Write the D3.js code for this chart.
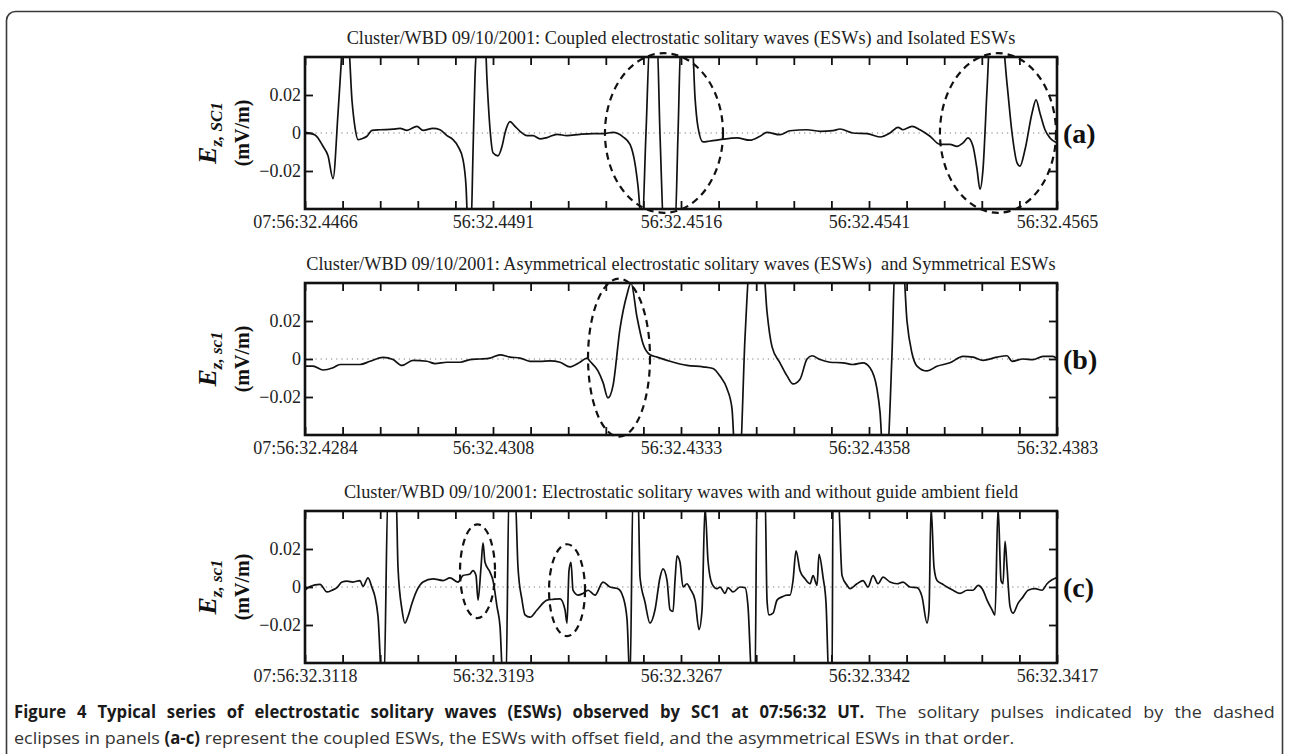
<!DOCTYPE html>
<html>
<head>
<meta charset="utf-8">
<script src="https://cdn.jsdelivr.net/npm/d3@7"></script>
<style>
  html, body { margin: 0; padding: 0; background: #fff; }
  svg { display: block; }
</style>
</head>
<body>
<svg id="fig" width="1289" height="754"></svg>
<script>
// ---------------- data ----------------
// time offsets in ms from the window start, field in mV/m
const panelTitles = [
  "Cluster/WBD 09/10/2001: Coupled electrostatic solitary waves (ESWs) and Isolated ESWs",
  "Cluster/WBD 09/10/2001: Asymmetrical electrostatic solitary waves (ESWs)\u00a0 and Symmetrical ESWs",
  "Cluster/WBD 09/10/2001: Electrostatic solitary waves with and without guide ambient field"
];
const panelTags = ["(a)", "(b)", "(c)"];
const yUnitSubscripts = ["z, SC1", "z, sc1", "z, sc1"];
const windowSpansMs = [9.9, 9.9, 29.9];

const xTickLabelsA = ["07:56:32.4466", "56:32.4491", "56:32.4516", "56:32.4541", "56:32.4565"];
const xTickLabelsB = ["07:56:32.4284", "56:32.4308", "56:32.4333", "56:32.4358", "56:32.4383"];
const xTickLabelsC = ["07:56:32.3118", "56:32.3193", "56:32.3267", "56:32.3342", "56:32.3417"];

const yDomain = [-0.04, 0.04];
const yTickValues = [-0.02, 0, 0.02];
const yTickLabels = ["\u22120.02", "0", "0.02"];

const waveA = [
  [0.000,0.0003],[0.132,-0.001],[0.237,-0.007],[0.303,-0.012],[0.369,-0.024],[0.434,0.010],
  [0.474,0.035],[0.500,0.05],[0.566,0.05],[0.619,0.017],[0.658,0.003],[0.698,-0.0035],
  [0.750,-0.003],[0.816,-0.0017],[0.882,0.0014],[0.987,0.0017],[1.159,0.002],[1.251,0.0024],
  [1.343,0.0014],[1.474,0.0035],[1.553,0.0014],[1.685,0.0024],[1.777,0.0017],[1.869,-0.0014],
  [1.948,-0.0035],[2.014,-0.007],[2.080,-0.014],[2.120,-0.028],[2.146,-0.05],[2.185,-0.05],
  [2.212,-0.01],[2.238,0.03],[2.278,0.05],[2.370,0.05],[2.396,0.028],[2.436,0.002],
  [2.475,-0.0104],[2.541,-0.012],[2.594,-0.007],[2.633,0.000],[2.699,0.006],[2.765,0.0035],
  [2.830,0.0009],[2.923,-0.0014],[3.002,-0.0014],[3.094,-0.0031],[3.186,-0.0024],[3.318,-0.0007],
  [3.449,-0.0014],[3.620,-0.0007],[3.792,-0.0003],[3.923,-0.0003],[4.055,0.0003],[4.186,-0.002],
  [4.279,-0.006],[4.344,-0.016],[4.384,-0.028],[4.437,-0.05],[4.489,0.0],[4.542,0.05],
  [4.634,0.05],[4.673,0.0],[4.726,-0.05],[4.871,-0.05],[4.911,0.0],[4.950,0.05],
  [5.095,0.05],[5.134,0.019],[5.174,0.003],[5.240,-0.0047],[5.332,-0.0042],[5.463,-0.0035],
  [5.687,-0.0026],[5.858,-0.0038],[5.990,-0.0017],[6.082,0.0003],[6.253,-0.0009],[6.385,0.0012],
  [6.609,0.0017],[6.780,0.0009],[6.951,0.0012],[7.043,0.0021],[7.214,0.0],[7.399,-0.0003],
  [7.570,-0.0021],[7.701,0.0],[7.807,0.003],[7.872,0.0017],[7.991,0.0035],[8.096,0.0017],
  [8.228,-0.0017],[8.360,-0.006],[8.491,-0.006],[8.584,-0.007],[8.663,-0.0052],[8.728,-0.0026],
  [8.794,-0.007],[8.847,-0.019],[8.886,-0.0296],[8.926,-0.019],[8.979,0.023],[9.018,0.05],
  [9.176,0.05],[9.242,0.026],[9.308,0.0],[9.374,-0.0157],[9.413,-0.0174],[9.479,-0.0087],
  [9.571,0.0104],[9.624,0.0174],[9.676,0.0104],[9.742,0.0017],[9.808,-0.0026],[9.900,-0.0052]
];

const waveB = [
  [0.000,-0.0037],[0.105,-0.0037],[0.237,-0.0058],[0.369,-0.0046],[0.461,-0.0029],[0.592,-0.0029],
  [0.724,-0.0029],[0.856,-0.0012],[1.027,0.0009],[1.159,-0.0003],[1.277,-0.0034],[1.422,-0.0007],
  [1.606,-0.0012],[1.711,-0.0024],[1.869,-0.0017],[2.041,-0.0017],[2.172,-0.0003],[2.304,0.0],
  [2.436,0.0005],[2.567,0.0022],[2.699,0.001],[2.830,0.0005],[2.962,-0.0012],[3.094,-0.0012],
  [3.225,-0.001],[3.357,-0.0017],[3.489,-0.0041],[3.620,-0.0017],[3.713,0.0005],[3.752,-0.0012],
  [3.857,-0.0063],[3.923,-0.0123],[3.989,-0.0205],[4.055,-0.014],[4.147,0.016],[4.239,0.034],
  [4.292,0.040],[4.371,0.022],[4.450,0.008],[4.542,0.0022],[4.634,0.001],[4.805,-0.0012],
  [5.029,-0.0034],[5.240,-0.0041],[5.371,-0.005],[5.463,-0.009],[5.556,-0.0157],[5.621,-0.026],
  [5.661,-0.05],[5.727,-0.05],[5.793,0.0116],[5.858,0.05],[6.030,0.05],[6.082,0.025],
  [6.148,0.0065],[6.253,-0.002],[6.346,-0.0089],[6.425,-0.0131],[6.517,-0.0106],[6.609,0.0],
  [6.675,0.0017],[6.780,-0.0003],[6.912,-0.0017],[7.083,-0.002],[7.214,-0.0029],[7.346,-0.002],
  [7.438,-0.0046],[7.530,-0.0157],[7.570,-0.028],[7.609,-0.05],[7.662,-0.05],[7.728,0.003],
  [7.767,0.05],[7.872,0.05],[7.925,0.02],[7.991,0.003],[8.057,-0.0037],[8.189,-0.0063],
  [8.320,-0.0038],[8.491,-0.002],[8.663,0.0014],[8.794,0.001],[8.926,-0.0007],[9.110,0.001],
  [9.242,0.0017],[9.308,-0.0012],[9.453,0.0],[9.584,-0.0003],[9.716,0.0014],[9.847,0.0014],
  [9.900,0.0]
];

const waveC = [
  [0.000,-0.0017],[0.199,0.0003],[0.596,0.0014],[0.875,-0.0026],[1.074,-0.0017],[1.272,-0.0003],
  [1.471,0.0026],[1.670,0.0031],[1.909,0.0026],[2.187,0.0034],[2.306,0.0003],[2.505,0.0048],
  [2.664,-0.0003],[2.783,-0.0052],[2.903,-0.0155],[3.062,-0.05],[3.141,-0.05],[3.300,0.05],
  [3.618,0.05],[3.698,0.0103],[3.857,-0.012],[3.976,-0.019],[4.096,-0.0155],[4.255,-0.0086],
  [4.453,-0.0017],[4.692,0.0026],[5.090,0.0043],[5.487,0.0034],[5.766,0.0048],[6.084,0.0026],
  [6.283,0.006],[6.561,0.0069],[6.680,0.0086],[6.799,0.006],[6.879,-0.0069],[6.998,0.0103],
  [7.078,0.0233],[7.157,0.013],[7.356,0.0078],[7.475,0.0034],[7.634,-0.0103],[7.754,-0.0207],
  [7.873,-0.05],[7.992,-0.05],[8.112,0.05],[8.350,0.05],[8.469,0.0103],[8.629,-0.0069],
  [8.748,-0.0147],[8.947,-0.0159],[9.225,-0.0121],[9.623,-0.0069],[9.861,-0.0065],[10.140,-0.0062],
  [10.338,-0.012],[10.418,-0.019],[10.497,0.0086],[10.577,0.013],[10.656,-0.0017],[10.855,-0.0043],
  [11.054,-0.0034],[11.253,-0.0017],[11.531,-0.0043],[11.849,0.0026],[12.128,0.0],[12.446,-0.0009],
  [12.645,-0.0052],[12.804,-0.017],[12.923,-0.05],[13.042,0.05],[13.241,0.05],[13.321,0.005],
  [13.519,-0.008],[13.718,-0.019],[13.917,-0.012],[14.116,0.005],[14.235,0.0095],[14.394,0.0035],
  [14.513,-0.012],[14.633,-0.0129],[14.712,0.0034],[14.792,0.0164],[14.911,0.013],[15.030,0.0],
  [15.189,0.0017],[15.309,-0.0009],[15.508,-0.0069],[15.667,-0.0224],[15.786,-0.0121],[15.905,0.042],
  [16.024,0.0138],[16.184,0.0017],[16.382,-0.0009],[16.502,0.0],[16.700,-0.0034],[16.820,-0.0003],
  [17.019,-0.0026],[17.297,0.0],[17.496,-0.0003],[17.615,-0.0103],[17.774,-0.05],[17.893,-0.05],
  [17.973,0.05],[18.291,0.05],[18.370,-0.0069],[18.450,-0.0147],[18.609,-0.0138],[18.768,-0.0069],
  [18.967,-0.0052],[19.166,-0.0043],[19.285,-0.0043],[19.404,0.0034],[19.524,0.019],[19.683,0.0086],
  [19.882,0.0043],[20.080,0.0017],[20.200,0.006],[20.359,0.0009],[20.438,0.0172],[20.597,0.0052],
  [20.717,-0.0086],[20.836,-0.05],[20.955,-0.05],[20.995,0.05],[21.194,0.05],[21.353,0.006],
  [21.552,0.0009],[21.671,-0.0009],[21.949,0.0017],[22.188,0.0034],[22.387,0.0],[22.585,0.006],
  [22.784,0.0017],[22.983,0.0052],[23.261,0.0026],[23.540,0.0017],[23.778,0.0026],[24.057,0.0],
  [24.335,-0.0003],[24.534,-0.0052],[24.733,-0.019],[24.812,-0.012],[24.892,0.042],[25.011,0.0103],
  [25.130,0.0034],[25.329,0.0017],[25.528,0.0],[25.766,-0.0017],[26.045,-0.0034],[26.323,-0.0017],
  [26.562,-0.0017],[26.761,0.0009],[26.959,-0.0017],[27.118,-0.0069],[27.317,-0.012],[27.436,-0.0147],
  [27.556,0.042],[27.675,0.0034],[27.755,0.0017],[27.834,0.024],[27.914,0.0103],[28.033,-0.0103],
  [28.152,-0.0138],[28.351,-0.0086],[28.550,-0.0052],[28.749,-0.0017],[29.027,-0.0009],[29.305,-0.0017],
  [29.504,0.0017],[29.703,0.0038],[29.900,0.005]
];

// highlighted pulses: [centre ms, centre mV/m, half-width ms, half-height mV/m]
const ellipsesA = [[4.726, 0.0, 0.777, 0.042], [9.123, 0.0, 0.764, 0.042]];
const ellipsesB = [[4.134, 0.0007, 0.408, 0.0416]];
const ellipsesC = [[6.859, 0.0083, 0.696, 0.0247], [10.418, -0.0017, 0.716, 0.0242]];

// caption runs: [text, bold?]
const captionLine1 = [
  ["Figure 4 Typical series of electrostatic solitary waves (ESWs) observed by SC1 at 07:56:32 UT.", true],
  ["The solitary pulses indicated by the dashed", false]
];
const captionLine2 = [
  ["eclipses in panels", false],
  ["(a-c)", true],
  ["represent the coupled ESWs, the ESWs with offset field, and the asymmetrical ESWs in that order.", false]
];

// ---------------- layout ----------------
const svg = d3.select("#fig");
const plotLeft = 305, plotRight = 1057, plotH = 152;
const panelTops = [57, 283, 511];
const serif = "'Liberation Serif', 'Times New Roman', serif";

// figure frame
svg.append("rect")
  .attr("x", 6.5).attr("y", 11.5)
  .attr("width", 1276).attr("height", 800)
  .attr("rx", 9).attr("ry", 9)
  .attr("fill", "none").attr("stroke", "#3a3a3a").attr("stroke-width", 1.6);

const panels = [
  { wave: waveA, labels: xTickLabelsA, ellipses: ellipsesA },
  { wave: waveB, labels: xTickLabelsB, ellipses: ellipsesB },
  { wave: waveC, labels: xTickLabelsC, ellipses: ellipsesC }
];

panels.forEach((p, i) => {
  const top = panelTops[i];
  const span = windowSpansMs[i];
  const g = svg.append("g").attr("transform", `translate(0,${top})`);
  const x = d3.scaleLinear().domain([0, span]).range([plotLeft, plotRight]);
  const y = d3.scaleLinear().domain(yDomain).range([plotH, 0]);
  const xTicks = d3.range(21).map(k => k * span / 20);

  const clipId = "clip" + i;
  g.append("clipPath").attr("id", clipId)
    .append("rect").attr("x", plotLeft).attr("y", 0)
    .attr("width", plotRight - plotLeft).attr("height", plotH);

  // zero reference
  g.append("line")
    .attr("x1", plotLeft).attr("x2", plotRight)
    .attr("y1", y(0)).attr("y2", y(0))
    .attr("stroke", "#7a7a7a").attr("stroke-width", 1)
    .attr("stroke-dasharray", "1.2,4");

  // waveform
  const line = d3.line().x(d => x(d[0])).y(d => y(d[1])).curve(d3.curveMonotoneX);
  g.append("path").datum(p.wave)
    .attr("clip-path", `url(#${clipId})`)
    .attr("d", line)
    .attr("fill", "none").attr("stroke", "#111").attr("stroke-width", 1.7)
    .attr("stroke-linejoin", "round");

  // axes (ticks point inward)
  const styleAxis = sel => {
    sel.select(".domain").remove();
    sel.selectAll(".tick line").attr("stroke", "#111").attr("stroke-width", 1.8);
    sel.selectAll("text").attr("font-family", serif).attr("font-size", 18).attr("fill", "#222");
  };
  g.append("g").attr("transform", `translate(0,${plotH})`)
    .call(d3.axisBottom(x).tickValues(xTicks).tickSize(-8).tickSizeOuter(0).tickPadding(6)
      .tickFormat((d, k) => k % 5 === 0 ? p.labels[k / 5] : ""))
    .call(styleAxis);
  g.append("g")
    .call(d3.axisTop(x).tickValues(xTicks).tickSize(-8).tickSizeOuter(0).tickFormat(""))
    .call(styleAxis);
  g.append("g").attr("transform", `translate(${plotLeft},0)`)
    .call(d3.axisLeft(y).tickValues(yTickValues).tickSize(-8).tickSizeOuter(0).tickPadding(4)
      .tickFormat((d, k) => yTickLabels[k]))
    .call(styleAxis);
  g.append("g").attr("transform", `translate(${plotRight},0)`)
    .call(d3.axisRight(y).tickValues(yTickValues).tickSize(-8).tickSizeOuter(0).tickFormat(""))
    .call(styleAxis);

  // plot frame
  g.append("rect")
    .attr("x", plotLeft).attr("y", 0)
    .attr("width", plotRight - plotLeft).attr("height", plotH)
    .attr("fill", "none").attr("stroke", "#111").attr("stroke-width", 2.6);

  // dashed ellipses around selected pulses
  g.selectAll("ellipse.mark").data(p.ellipses).enter().append("ellipse")
    .attr("class", "mark")
    .attr("cx", d => x(d[0]))
    .attr("cy", d => y(d[1]))
    .attr("rx", d => x(d[2]) - x(0))
    .attr("ry", d => y(0) - y(d[3]))
    .attr("fill", "none").attr("stroke", "#111").attr("stroke-width", 2.2)
    .attr("stroke-dasharray", "7,5");

  // title
  g.append("text")
    .attr("x", (plotLeft + plotRight) / 2).attr("y", -13)
    .attr("text-anchor", "middle")
    .attr("font-family", serif).attr("font-size", 18.3).attr("fill", "#222")
    .text(panelTitles[i]);

  // panel tag
  g.append("text")
    .attr("x", 1063).attr("y", y(0) + 10)
    .attr("font-family", serif).attr("font-size", 28).attr("font-weight", "bold").attr("fill", "#111")
    .text(panelTags[i]);

  // y label
  const yl = g.append("text")
    .attr("transform", `translate(216,${y(0)}) rotate(-90)`)
    .attr("text-anchor", "middle")
    .attr("font-family", serif).attr("font-weight", "bold").attr("font-style", "italic").attr("fill", "#111");
  yl.append("tspan").attr("font-size", 26).text("E");
  yl.append("tspan").attr("font-size", 17).attr("dy", 6).text(yUnitSubscripts[i]);
  g.append("text")
    .attr("transform", `translate(249,${y(0)}) rotate(-90)`)
    .attr("text-anchor", "middle")
    .attr("font-family", serif).attr("font-weight", "bold").attr("font-size", 20).attr("fill", "#111")
    .text("(mV/m)");
});

// ---------------- caption ----------------
// condensed caption face (bold set a little tighter than regular);
// the first line is justified to the column, the last line is set ragged
const capFont = "'Open Sans', 'Noto Sans', sans-serif";
const capSize = 17;
const capLeft = 14, capRight = 1275, lastLineEnd = 1015;
const boldToRegular = 0.93;

function naturalWidth(str, bold) {
  const t = svg.append("text").attr("font-family", capFont).attr("font-size", capSize)
    .attr("font-weight", bold ? "bold" : "normal").text(str);
  const w = t.node().getComputedTextLength();
  t.remove();
  return w;
}
const nSp = s => s.split(" ").length - 1;
const spaceW = naturalWidth("a a", false) - naturalWidth("aa", false);

// set widths from the ragged last line
const reg2 = naturalWidth(captionLine2[0][0], false) + naturalWidth(captionLine2[2][0], false) + 2 * spaceW;
const bold2 = naturalWidth(captionLine2[1][0], true);
const regSqueeze = (lastLineEnd - capLeft) / (reg2 + boldToRegular * bold2);
const boldSqueeze = boldToRegular * regSqueeze;

function placeRun(text, bold, x0, baseline, extraPerSpace) {
  const s = bold ? boldSqueeze : regSqueeze;
  const t = svg.append("text")
    .attr("transform", `translate(${x0},${baseline}) scale(${s},1)`)
    .attr("font-family", capFont).attr("font-size", capSize)
    .attr("font-weight", bold ? "bold" : "normal")
    .attr("fill", bold ? "#1a1a1a" : "#333")
    .text(text);
  if (extraPerSpace) t.attr("word-spacing", extraPerSpace / s);
  return x0 + naturalWidth(text, bold) * s + extraPerSpace * nSp(text);
}

// line 1 justified: the same extra room goes into every word gap
const [b1, r1] = [captionLine1[0][0], captionLine1[1][0]];
const gap = spaceW * regSqueeze;
const setWidth1 = naturalWidth(b1, true) * boldSqueeze + naturalWidth(r1, false) * regSqueeze + gap;
const extra = (capRight - capLeft - setWidth1) / (nSp(b1) + nSp(r1) + 1);
const endBold = placeRun(b1, true, capLeft, 718, extra);
placeRun(r1, false, endBold + gap + extra, 718, extra);

// line 2 ragged
let cx = capLeft;
captionLine2.forEach(([text, bold]) => {
  cx = placeRun(text, bold, cx, 744, 0) + gap;
});
</script>
</body>
</html>
